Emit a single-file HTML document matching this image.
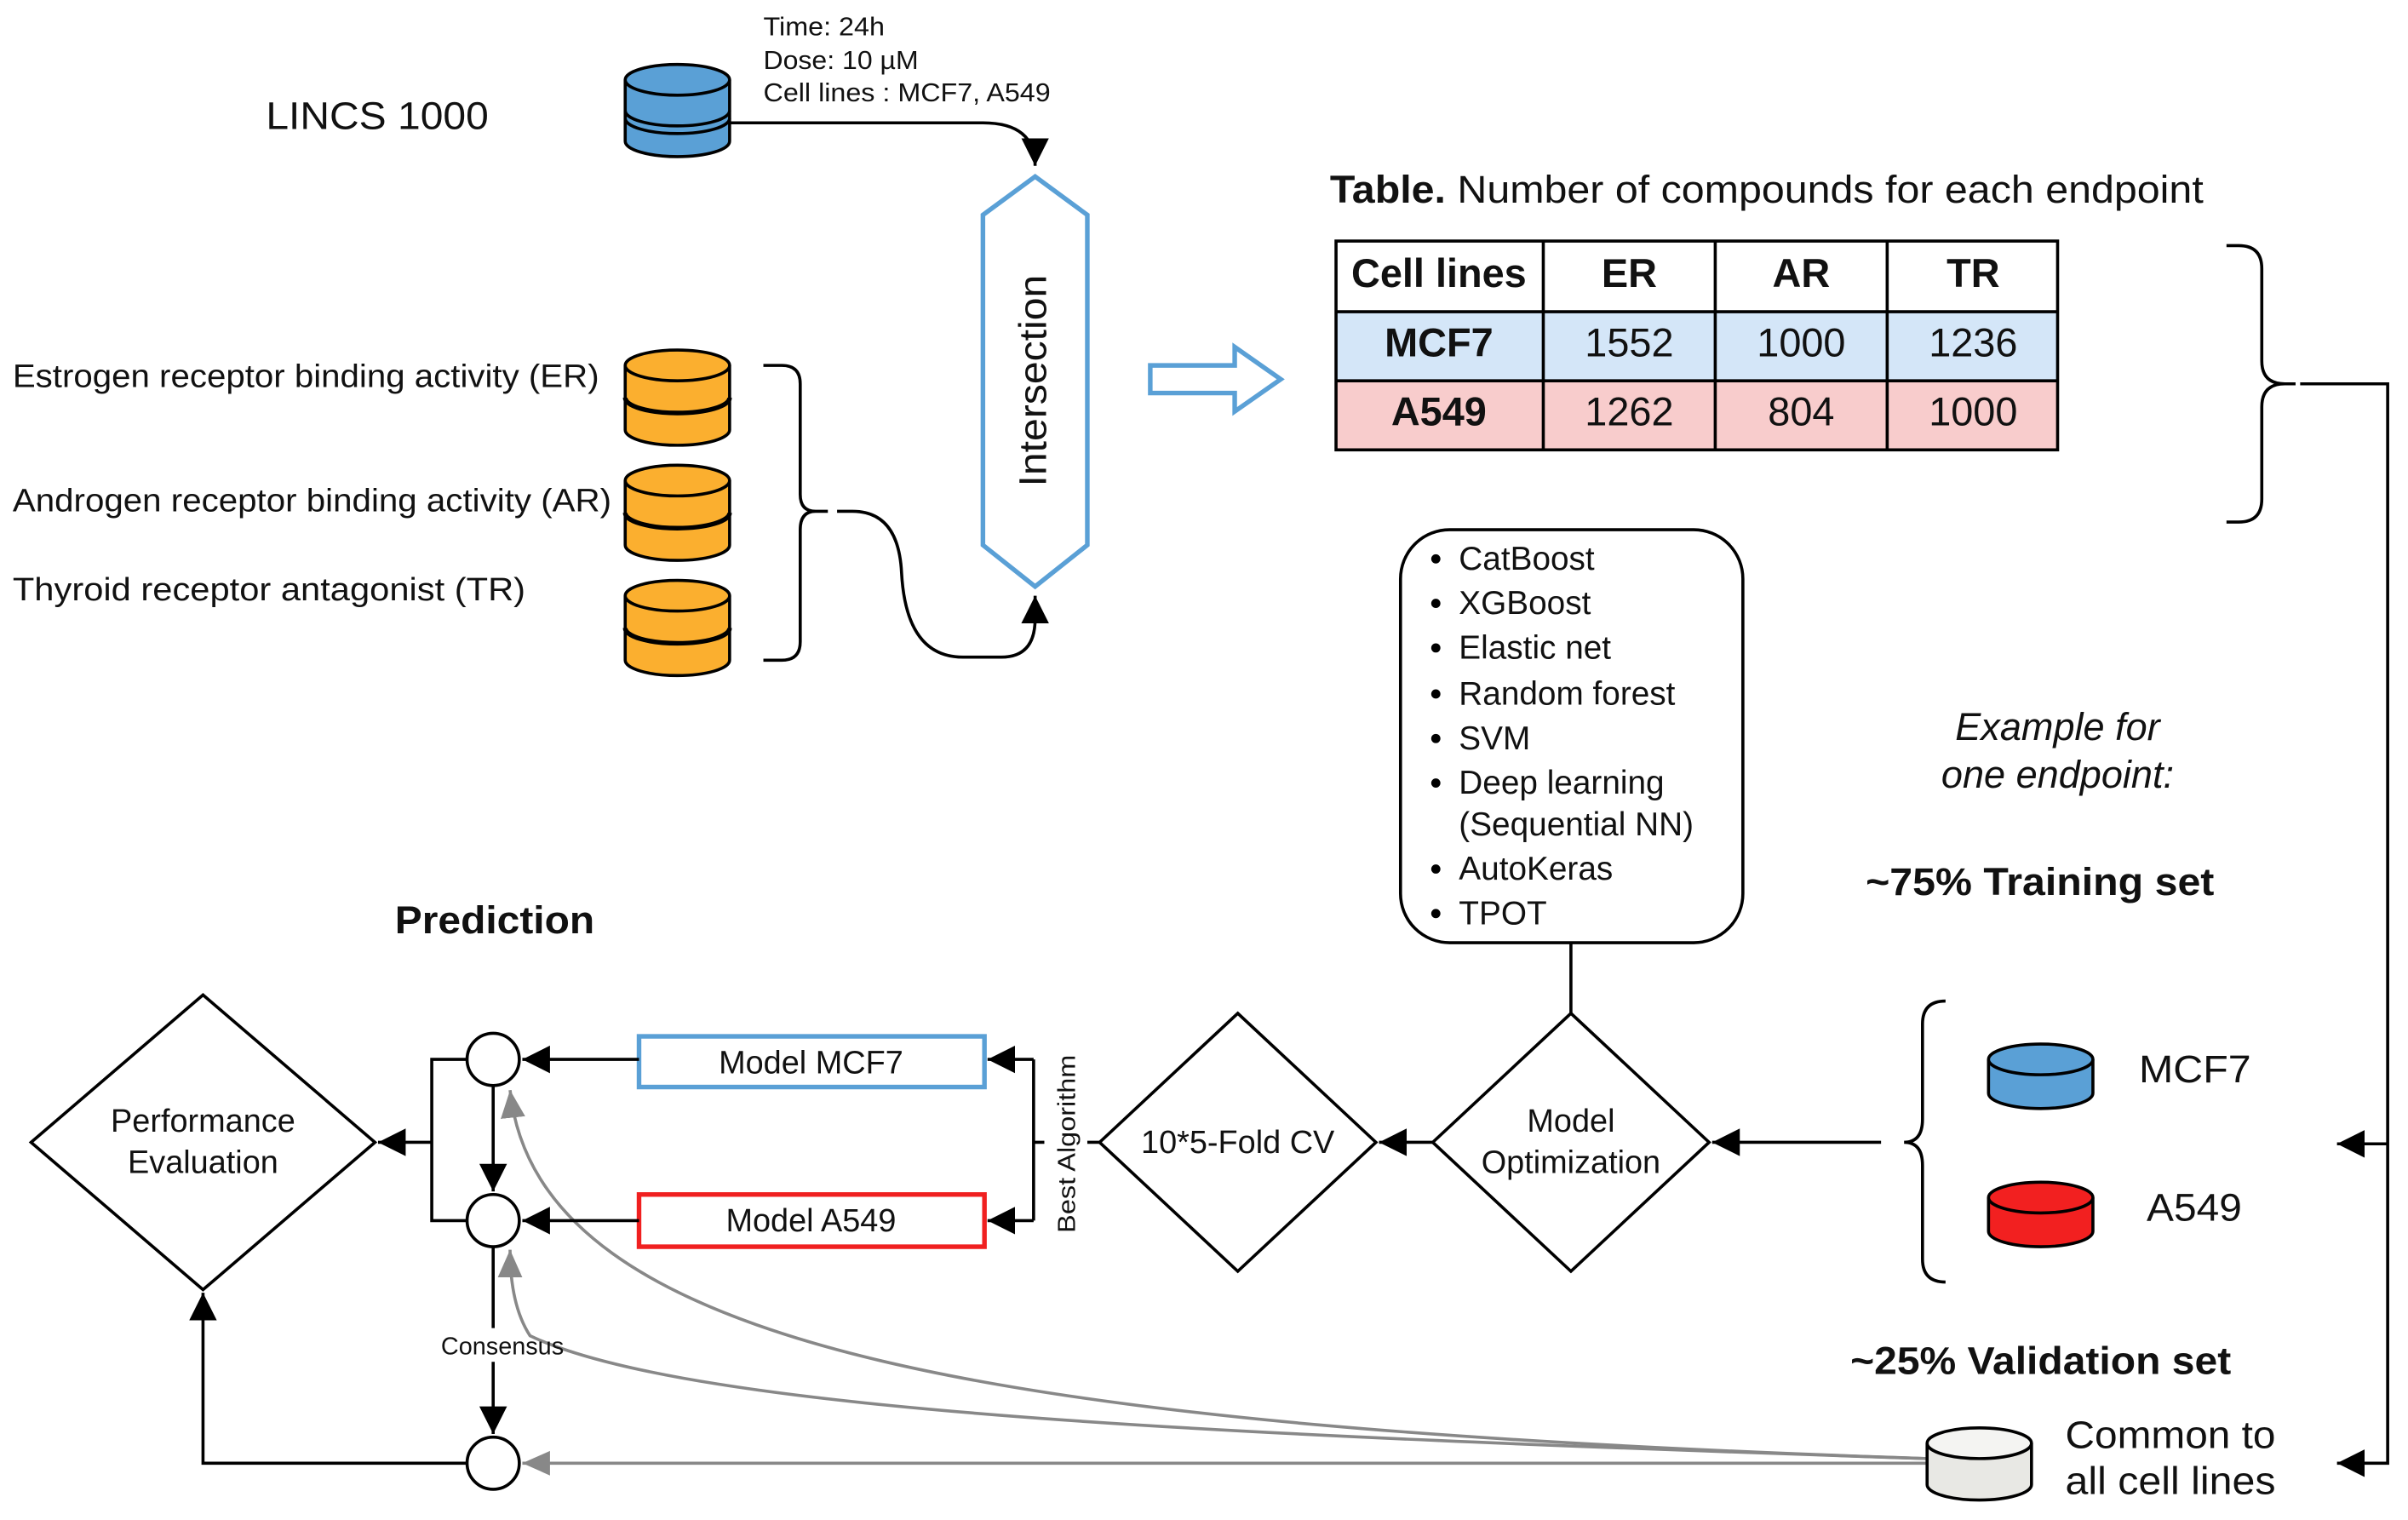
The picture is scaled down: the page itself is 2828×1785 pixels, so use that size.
<!DOCTYPE html>
<html><head><meta charset="utf-8"><style>html,body{margin:0;padding:0;background:#fff}svg{display:block}text{font-family:"Liberation Sans",sans-serif;fill:#111}</style></head>
<body>
<svg width="2828" height="1785" viewBox="0 0 1568 990" xmlns="http://www.w3.org/2000/svg">
<defs>
<marker id="ab" markerWidth="20" markerHeight="20" refX="18" refY="10" orient="auto" markerUnits="userSpaceOnUse"><path d="M0,1 L18,10 L0,19Z" fill="#000"/></marker>
<marker id="ag" markerWidth="20" markerHeight="20" refX="18" refY="10" orient="auto" markerUnits="userSpaceOnUse"><path d="M0,2 L18,10 L0,18Z" fill="#888"/></marker>
</defs>
<g stroke="#000" stroke-width="2">
<path d="M407,52 v40 a34,10 0 0 0 68,0 v-40" fill="#5aa0d6"/>
<path d="M407,72 a34,10 0 0 0 68,0 M407,77 a34,10 0 0 0 68,0" fill="none"/>
<ellipse cx="441" cy="52" rx="34" ry="10" fill="#5aa0d6"/>
<g fill="#fbaf2f">
<path d="M407,238 v42 a34,10 0 0 0 68,0 v-42"/><path d="M407,259 a34,10 0 0 0 68,0" fill="none" stroke-width="3"/><ellipse cx="441" cy="238" rx="34" ry="10"/>
<path d="M407,313 v42 a34,10 0 0 0 68,0 v-42"/><path d="M407,334 a34,10 0 0 0 68,0" fill="none" stroke-width="3"/><ellipse cx="441" cy="313" rx="34" ry="10"/>
<path d="M407,388 v42 a34,10 0 0 0 68,0 v-42"/><path d="M407,409 a34,10 0 0 0 68,0" fill="none" stroke-width="3"/><ellipse cx="441" cy="388" rx="34" ry="10"/>
</g>
</g>
<g lengthAdjust="spacingAndGlyphs">
<text x="173" y="84" font-size="25" textLength="145" lengthAdjust="spacingAndGlyphs">LINCS 1000</text>
<text x="497" y="23" font-size="17" textLength="79" lengthAdjust="spacingAndGlyphs">Time: 24h</text>
<text x="497" y="45" font-size="17" textLength="101" lengthAdjust="spacingAndGlyphs">Dose: 10 µM</text>
<text x="497" y="66" font-size="17" textLength="187" lengthAdjust="spacingAndGlyphs">Cell lines : MCF7, A549</text>
</g>
<path d="M475,80 H640 Q674,80 674,108" fill="none" stroke="#000" stroke-width="2" marker-end="url(#ab)"/>
<polygon points="674,115 708,140 708,355 674,382 640,355 640,140" fill="#fff" stroke="#5aa0d6" stroke-width="3"/>
<text transform="translate(681,248) rotate(-90)" font-size="25" text-anchor="middle" textLength="138" lengthAdjust="spacingAndGlyphs">Intersection</text>
<text x="8" y="252" font-size="21" textLength="382" lengthAdjust="spacingAndGlyphs">Estrogen receptor binding activity (ER)</text>
<text x="8" y="333" font-size="21" textLength="390" lengthAdjust="spacingAndGlyphs">Androgen receptor binding activity (AR)</text>
<text x="8" y="391" font-size="21" textLength="334" lengthAdjust="spacingAndGlyphs">Thyroid receptor antagonist (TR)</text>
<path d="M497,238 h12 q12,0 12,12 v72 q0,11 10,11 h8 M497,430 h12 q12,0 12,-12 v-73 q0,-12 10,-12" fill="none" stroke="#000" stroke-width="2"/>
<path d="M545,333 h10 q30,0 32,40 q3,55 40,55 h25 q22,0 22,-25 v-15" fill="none" stroke="#000" stroke-width="2" marker-end="url(#ab)"/>
<path d="M749,238 h55 v-12 l30,21 l-30,21 v-12 h-55z" fill="#fff" stroke="#5aa0d6" stroke-width="3"/>
<text x="866" y="132" font-size="25" textLength="569" lengthAdjust="spacingAndGlyphs"><tspan font-weight="bold">Table.</tspan> Number of compounds for each endpoint</text>
<rect x="870" y="203" width="470" height="45" fill="#d4e6f8"/>
<rect x="870" y="248" width="470" height="45" fill="#f8cccc"/>
<g stroke="#000" stroke-width="2" fill="none"><rect x="870" y="157" width="470" height="136"/><path d="M870,203H1340M870,248H1340M1005,157V293M1117,157V293M1229,157V293"/></g>
<g font-size="26" text-anchor="middle">
<text x="937" y="187" font-weight="bold">Cell lines</text><text x="1061" y="187" font-weight="bold">ER</text><text x="1173" y="187" font-weight="bold">AR</text><text x="1285" y="187" font-weight="bold">TR</text>
<text x="937" y="232" font-weight="bold">MCF7</text><text x="1061" y="232">1552</text><text x="1173" y="232">1000</text><text x="1285" y="232">1236</text>
<text x="937" y="277" font-weight="bold">A549</text><text x="1061" y="277">1262</text><text x="1173" y="277">804</text><text x="1285" y="277">1000</text>
</g>
<path d="M1450,160 h8 q15,0 15,15 v60 q0,15 15,15 h7 M1450,340 h8 q15,0 15,-15 v-60 q0,-15 15,-15" fill="none" stroke="#000" stroke-width="2"/>
<path d="M1498,250 H1555 V953 H1522" fill="none" stroke="#000" stroke-width="2" marker-end="url(#ab)"/>
<path d="M1555,745 H1522" fill="none" stroke="#000" stroke-width="2" marker-end="url(#ab)"/>
<rect x="912" y="345" width="223" height="269" rx="32" fill="#fff" stroke="#000" stroke-width="2"/>
<g font-size="21.5">
<text x="950" y="371">CatBoost</text><text x="950" y="400">XGBoost</text><text x="950" y="429">Elastic net</text><text x="950" y="459">Random forest</text><text x="950" y="488">SVM</text><text x="950" y="517">Deep learning</text><text x="950" y="544">(Sequential NN)</text><text x="950" y="573">AutoKeras</text><text x="950" y="602">TPOT</text>
</g>
<g fill="#000"><circle cx="935" cy="364" r="3"/><circle cx="935" cy="393" r="3"/><circle cx="935" cy="422" r="3"/><circle cx="935" cy="452" r="3"/><circle cx="935" cy="481" r="3"/><circle cx="935" cy="510" r="3"/><circle cx="935" cy="566" r="3"/><circle cx="935" cy="595" r="3"/></g>
<path d="M1023,614 V660" stroke="#000" stroke-width="2"/>
<polygon points="1023,660 1113,744 1023,828 933,744" fill="#fff" stroke="#000" stroke-width="2"/>
<text x="1023" y="737" font-size="21" text-anchor="middle">Model</text><text x="1023" y="764" font-size="21" text-anchor="middle">Optimization</text>
<path d="M1225,744 H1115" stroke="#000" stroke-width="2" marker-end="url(#ab)"/>
<polygon points="806,660 896,744 806,828 716,744" fill="#fff" stroke="#000" stroke-width="2"/>
<text x="806" y="751" font-size="21" text-anchor="middle">10*5-Fold CV</text>
<path d="M933,744 H898" stroke="#000" stroke-width="2" marker-end="url(#ab)"/>
<path d="M716,744 H708 M680,744 H673 M673,690 V795" stroke="#000" stroke-width="2" fill="none"/>
<text transform="translate(700,745) rotate(-90)" font-size="16" text-anchor="middle" textLength="116" lengthAdjust="spacingAndGlyphs">Best Algorithm</text>
<path d="M673,690 H643" stroke="#000" stroke-width="2" marker-end="url(#ab)"/>
<path d="M673,795 H643" stroke="#000" stroke-width="2" marker-end="url(#ab)"/>
<g stroke="#888" stroke-width="2" fill="none">
<path d="M1255,953 H340" marker-end="url(#ag)"/>
<path d="M1255,950 C650,930 350,880 332,710" marker-end="url(#ag)"/>
<path d="M1255,950 C800,935 450,920 345,870 Q332,850 332,814" marker-end="url(#ag)"/>
</g>
<rect x="416" y="675" width="225" height="33" fill="#fff" stroke="#5aa0d6" stroke-width="3"/>
<text x="528" y="699" font-size="21" text-anchor="middle">Model MCF7</text>
<rect x="416" y="778" width="225" height="34" fill="#fff" stroke="#f02020" stroke-width="3"/>
<text x="528" y="802" font-size="21" text-anchor="middle">Model A549</text>
<path d="M416,690 H340" stroke="#000" stroke-width="2" marker-end="url(#ab)"/>
<path d="M416,795 H340" stroke="#000" stroke-width="2" marker-end="url(#ab)"/>
<path d="M304,690 H281 V795 H304" stroke="#000" stroke-width="2" fill="none"/>
<path d="M281,744 H246" stroke="#000" stroke-width="2" fill="none" marker-end="url(#ab)"/>
<path d="M321,707 V776" stroke="#000" stroke-width="2" marker-end="url(#ab)"/>
<path d="M321,812 V865" stroke="#000" stroke-width="2" fill="none"/>
<path d="M321,887 V934" stroke="#000" stroke-width="2" fill="none" marker-end="url(#ab)"/>
<text x="327" y="882" font-size="16" text-anchor="middle">Consensus</text>
<path d="M304,953 H132 V842" stroke="#000" stroke-width="2" fill="none" marker-end="url(#ab)"/>
<polygon points="132,648 244,744 132,840 20,744" fill="#fff" stroke="#000" stroke-width="2"/>
<text x="132" y="737" font-size="21" text-anchor="middle">Performance</text><text x="132" y="764" font-size="21" text-anchor="middle">Evaluation</text>
<text x="257" y="608" font-size="25" font-weight="bold" textLength="130" lengthAdjust="spacingAndGlyphs">Prediction</text>
<circle cx="321" cy="690" r="17" fill="#fff" stroke="#000" stroke-width="2"/>
<circle cx="321" cy="795" r="17" fill="#fff" stroke="#000" stroke-width="2"/>
<circle cx="321" cy="953" r="17" fill="#fff" stroke="#000" stroke-width="2"/>
<g stroke="#000" stroke-width="2">
<path d="M1255,940 v27 a34,10 0 0 0 68,0 v-27" fill="#e8e8e4"/><ellipse cx="1289" cy="940" rx="34" ry="10" fill="#f4f4f2"/>
<path d="M1295,690 v22 a34,10 0 0 0 68,0 v-22" fill="#5aa0d6"/><ellipse cx="1329" cy="690" rx="34" ry="10" fill="#5aa0d6"/>
<path d="M1295,780 v22 a34,10 0 0 0 68,0 v-22" fill="#f22020"/><ellipse cx="1329" cy="780" rx="34" ry="10" fill="#f22020"/>
</g>
<path d="M1267,652 q-15,0 -15,15 v62 q0,15 -12,15 q12,0 12,15 v61 q0,15 15,15" fill="none" stroke="#000" stroke-width="2"/>
<text x="1393" y="705" font-size="25" textLength="73" lengthAdjust="spacingAndGlyphs">MCF7</text>
<text x="1398" y="795" font-size="25" textLength="62" lengthAdjust="spacingAndGlyphs">A549</text>
<text x="1340" y="482" font-size="25" font-style="italic" text-anchor="middle">Example for</text>
<text x="1340" y="513" font-size="25" font-style="italic" text-anchor="middle">one endpoint:</text>
<text x="1215" y="583" font-size="25" font-weight="bold" textLength="227" lengthAdjust="spacingAndGlyphs">~75% Training set</text>
<text x="1205" y="895" font-size="25" font-weight="bold" textLength="248" lengthAdjust="spacingAndGlyphs">~25% Validation set</text>
<text x="1345" y="943" font-size="25" textLength="137" lengthAdjust="spacingAndGlyphs">Common to</text>
<text x="1345" y="973" font-size="25" textLength="137" lengthAdjust="spacingAndGlyphs">all cell lines</text>
</svg>
</body></html>
